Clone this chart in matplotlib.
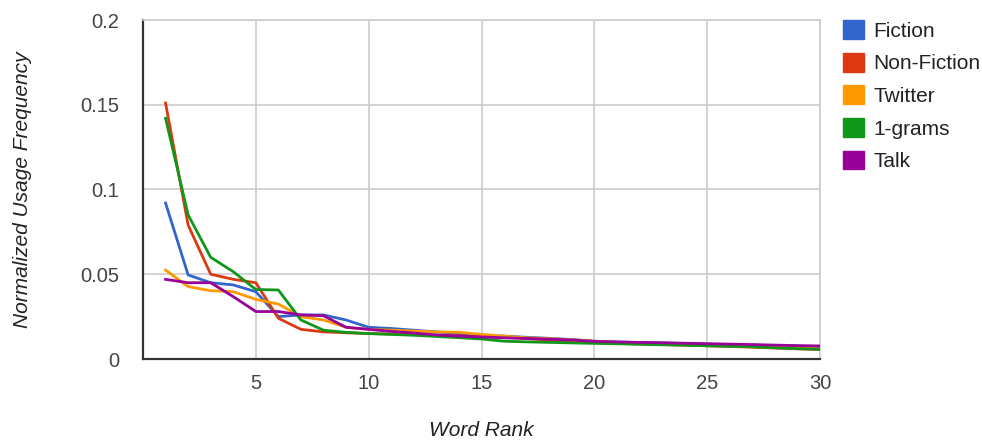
import matplotlib
matplotlib.use("Agg")
import matplotlib.pyplot as plt
from matplotlib.patches import Patch

plt.rcParams['font.family'] = ['Liberation Sans', 'DejaVu Sans']

ranks = list(range(1, 31))
series_names = ["Fiction", "Non-Fiction", "Twitter", "1-grams", "Talk"]
fiction = [0.092, 0.0496, 0.045, 0.0437, 0.0397, 0.025, 0.026, 0.026, 0.023, 0.0187,
           0.018, 0.017, 0.016, 0.015, 0.014, 0.0135, 0.0128, 0.0122, 0.0115, 0.0105,
           0.010, 0.0097, 0.0094, 0.0091, 0.0088, 0.0085, 0.0082, 0.0079, 0.0076, 0.0073]
non_fiction = [0.151, 0.079, 0.050, 0.047, 0.045, 0.024, 0.0175, 0.016, 0.0155, 0.015,
               0.0148, 0.0145, 0.014, 0.0137, 0.0133, 0.013, 0.012, 0.0112, 0.0105, 0.0098,
               0.0092, 0.0088, 0.0085, 0.0082, 0.0078, 0.0074, 0.007, 0.0065, 0.006, 0.0056]
twitter = [0.0525, 0.0427, 0.0403, 0.0397, 0.0352, 0.0324, 0.025, 0.023, 0.0187, 0.0175,
           0.017, 0.0165, 0.016, 0.0158, 0.0145, 0.0135, 0.0125, 0.012, 0.0113, 0.0105,
           0.0099, 0.0094, 0.009, 0.0086, 0.0082, 0.0078, 0.0074, 0.007, 0.0065, 0.006]
one_grams = [0.142, 0.085, 0.060, 0.0515, 0.041, 0.0407, 0.023, 0.017, 0.0157, 0.015,
             0.0145, 0.014, 0.0133, 0.0126, 0.0118, 0.0105, 0.0101, 0.0098, 0.0095, 0.0092,
             0.009, 0.0087, 0.0084, 0.0081, 0.0078, 0.0075, 0.0072, 0.0066, 0.0061, 0.0057]
talk = [0.047, 0.045, 0.045, 0.0368, 0.028, 0.028, 0.026, 0.0255, 0.0187, 0.0175,
        0.0163, 0.0153, 0.0142, 0.0135, 0.013, 0.0125, 0.0121, 0.0117, 0.0112, 0.0104,
        0.0101, 0.0098, 0.0096, 0.0093, 0.009, 0.0088, 0.0085, 0.0082, 0.0079, 0.0077]
x_ticks = [5, 10, 15, 20, 25, 30]
y_ticks = [0, 0.05, 0.1, 0.15, 0.2]
y_tick_labels = ["0", "0.05", "0.1", "0.15", "0.2"]

colors = ["#3366cc", "#dc3912", "#ff9900", "#109618", "#990099"]
data = [fiction, non_fiction, twitter, one_grams, talk]

fig = plt.figure(figsize=(9.82, 4.4), dpi=100)
ax = fig.add_axes([143/982, 81/440, (820-143)/982, (359-20)/440])

for vals, c in zip(data, colors):
    ax.plot(ranks, vals, color=c, lw=2.0, solid_joinstyle='round', zorder=3)

ax.set_xlim(0, 30)
ax.set_ylim(0, 0.2)
ax.set_xticks(x_ticks)
ax.set_yticks(y_ticks)
ax.set_yticklabels(y_tick_labels)
ax.grid(True, color="#cccccc", lw=1.2, zorder=0)
ax.set_axisbelow(True)
for s in ["top", "right"]:
    ax.spines[s].set_color("#cccccc")
    ax.spines[s].set_linewidth(1.2)
for s in ["left", "bottom"]:
    ax.spines[s].set_color("#333333")
    ax.spines[s].set_linewidth(1.6)
ax.tick_params(length=0, labelsize=14.5, colors="#444444")
ax.tick_params(axis='y', pad=17)
ax.tick_params(axis='x', pad=11)

ax.set_xlabel("Word Rank", fontsize=15, style='italic', color="#222222", labelpad=20)
ax.set_ylabel("Normalized Usage Frequency", fontsize=15, style='italic', color="#222222", labelpad=35)

handles = [Patch(facecolor=c, edgecolor=c) for c in colors]
fig.legend(handles, series_names, loc='upper left', bbox_to_anchor=(833/982, 1 - 10/440),
           frameon=False, fontsize=15, handlelength=1.0, handleheight=1.0,
           handletextpad=0.45, labelspacing=0.58, borderpad=0, labelcolor="#222222")

fig.savefig("out.png", dpi=100)
